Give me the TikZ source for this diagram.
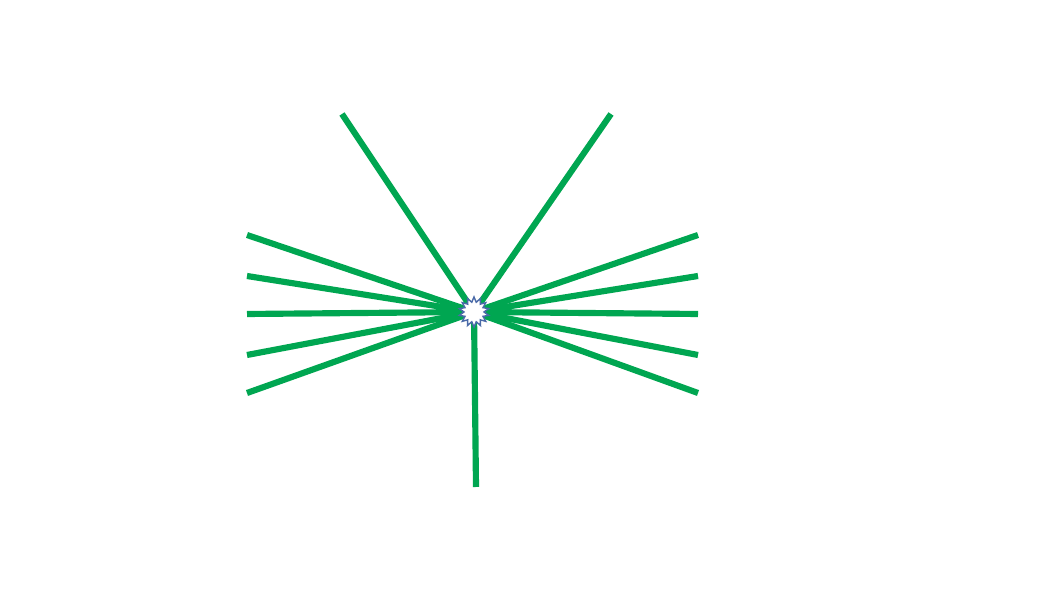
\documentclass[tikz,border=0pt]{standalone}
\usetikzlibrary{shapes.geometric}
\definecolor{ray}{HTML}{00A651}
\definecolor{burst}{HTML}{4A6AA8}
\begin{document}
\begin{tikzpicture}[
	x=0.01cm,y=-0.01cm,
	rayline/.style={ray,line width=1.75pt},
	hubstar/.style={star,star points=14,star point ratio=1.5,minimum size=0.3cm,inner sep=0pt,fill=white,draw=burst,line width=0.4pt}
]
\useasboundingbox (0,0) rectangle (1058,595);
%\draw[step=50,black!10] (0,0)grid(1058,595);
\coordinate (c) at (474,312);
\foreach \y [count=\i] in {235,276,314,355,393}{
	\coordinate (l\i) at (247,\y);
	\coordinate (r\i) at (698,\y);
	\draw[rayline] (l\i) -- (c) -- (r\i);
}
\coordinate (tl) at (342,114);
\coordinate (tr) at (611,114);
\coordinate (b) at (476,487);
\draw[rayline] (tl) -- (c) -- (tr);
\draw[rayline] (c) -- (b);
\node[hubstar] (hub) at (c){};
\end{tikzpicture}
\end{document}
